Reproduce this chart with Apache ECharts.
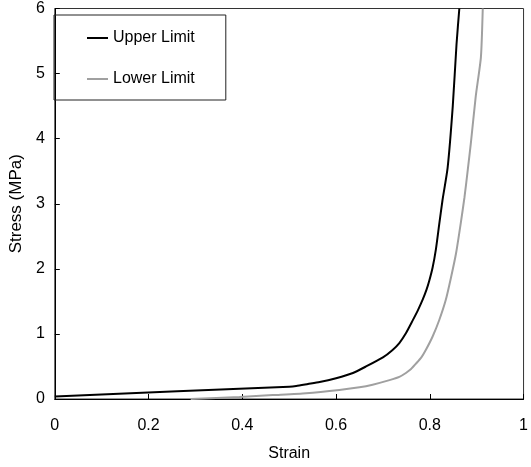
<!DOCTYPE html>
<html>
<head>
<meta charset="utf-8">
<script src="https://cdn.jsdelivr.net/npm/echarts@6/dist/echarts.min.js"></script>
<style>
html,body{margin:0;padding:0;background:#fff;}
#chart{width:531px;height:467px;}
</style>
</head>
<body>
<div id="chart"></div>
<script>
// Strain (x) and Stress in MPa (y)
const upperStrain = [0, 0.5, 0.515, 0.54, 0.565, 0.6, 0.636, 0.664, 0.7, 0.72, 0.735, 0.749, 0.763, 0.775, 0.785, 0.793, 0.799, 0.806, 0.813, 0.82, 0.827, 0.838, 0.849, 0.857, 0.863];
const upperStress = [0.04, 0.19, 0.20, 0.23, 0.26, 0.32, 0.40, 0.50, 0.64, 0.75, 0.86, 1.01, 1.20, 1.37, 1.53, 1.68, 1.82, 2.02, 2.30, 2.68, 3.05, 3.55, 4.50, 5.45, 6.0];
const lowerStrain = [0.29, 0.394, 0.465, 0.536, 0.607, 0.65, 0.678, 0.714, 0.735, 0.749, 0.76, 0.77, 0.782, 0.792, 0.806, 0.82, 0.834, 0.845, 0.856, 0.866, 0.874, 0.881, 0.888, 0.898, 0.909, 0.913];
const lowerStress = [0.0, 0.03, 0.06, 0.09, 0.14, 0.18, 0.22, 0.29, 0.34, 0.40, 0.46, 0.54, 0.64, 0.76, 0.96, 1.21, 1.52, 1.86, 2.24, 2.70, 3.10, 3.52, 3.96, 4.65, 5.25, 6.0];
const seriesNames = ['Upper Limit', 'Lower Limit'];
const xTitle = 'Strain';
const yTitle = 'Stress (MPa)';

const pair = (xs, ys) => xs.map((x, i) => [x, ys[i]]);
const FONT = "'Liberation Sans', Arial, sans-serif";

const chart = echarts.init(document.getElementById('chart'), null, {renderer: 'canvas'});
chart.setOption({
  animation: false,
  backgroundColor: '#fff',
  textStyle: {fontFamily: FONT},
  grid: {left: 48, right: 4.5, top: 8.5, bottom: 67, show: true, borderColor: '#333', borderWidth: 1, containLabel: false},
  legend: {
    orient: 'vertical',
    left: 54, top: 15,
    padding: [15, 31, 13, 33],
    itemGap: 25,
    itemWidth: 21, itemHeight: 2,
    icon: 'rect',
    borderColor: '#222', borderWidth: 1,
    textStyle: {fontFamily: FONT, fontSize: 16, color: '#000', lineHeight: 16},
    data: seriesNames
  },
  xAxis: {
    type: 'value', min: 0, max: 1, interval: 0.2,
    name: xTitle, nameLocation: 'middle', nameGap: 47,
    nameTextStyle: {fontFamily: FONT, fontSize: 16, color: '#000'},
    axisLine: {show: true, onZero: false, lineStyle: {color: '#000', width: 1}},
    axisTick: {show: true, inside: true, length: 5, lineStyle: {color: '#000'}},
    axisLabel: {margin: 19, fontFamily: FONT, fontSize: 16, color: '#000'},
    splitLine: {show: false}
  },
  yAxis: {
    type: 'value', min: 0, max: 6, interval: 1,
    name: yTitle, nameLocation: 'middle', nameGap: 26,
    nameTextStyle: {fontFamily: FONT, fontSize: 17, color: '#000'},
    axisLine: {show: true, lineStyle: {color: '#000', width: 1}},
    axisTick: {show: true, inside: true, length: 5, lineStyle: {color: '#000'}},
    axisLabel: {margin: 10, fontFamily: FONT, fontSize: 16, color: '#000'},
    splitLine: {show: false}
  },
  series: [
    {name: seriesNames[0], type: 'line', data: pair(upperStrain, upperStress), showSymbol: false, symbol: 'none',
     smooth: 0.2,
     lineStyle: {color: '#000', width: 2}, itemStyle: {color: '#000'}, clip: true},
    {name: seriesNames[1], type: 'line', data: pair(lowerStrain, lowerStress), showSymbol: false, symbol: 'none',
     smooth: 0.2,
     lineStyle: {color: '#a0a0a0', width: 2}, itemStyle: {color: '#a0a0a0'}, clip: true}
  ]
});
</script>
</body>
</html>
